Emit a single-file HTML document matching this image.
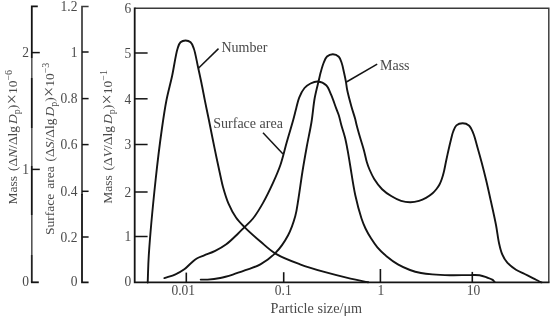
<!DOCTYPE html>
<html><head><meta charset="utf-8">
<style>
html,body{margin:0;padding:0;background:#fff;}
body{width:552px;height:317px;overflow:hidden;}
svg{display:block;filter:grayscale(1);}
text{font-family:"Liberation Serif",serif;fill:#484848;}
</style></head>
<body>
<svg width="552" height="317" viewBox="0 0 552 317">
<rect width="552" height="317" fill="#fff"/>
<path d="M134.7 8.2 H548.8 V282.4" fill="none" stroke="#3a3a3a" stroke-width="1.45"/>
<path d="M134.7 7.5 V282.4 H549.5" fill="none" stroke="#141414" stroke-width="1.8"/>
<path d="M134.8 236.5 H147.6" stroke="#141414" stroke-width="1.5"/>
<path d="M134.8 192.0 H147.6" stroke="#141414" stroke-width="1.5"/>
<path d="M134.8 144.5 H147.6" stroke="#141414" stroke-width="1.5"/>
<path d="M134.8 98.8 H147.6" stroke="#141414" stroke-width="1.5"/>
<path d="M134.8 53.0 H147.6" stroke="#141414" stroke-width="1.5"/>
<path d="M186.3 282.3 V272.6" stroke="#141414" stroke-width="1.6"/>
<path d="M283.7 282.3 V272.2" stroke="#141414" stroke-width="1.6"/>
<path d="M380.4 282.3 V269.0" stroke="#141414" stroke-width="1.6"/>
<path d="M472.3 282.3 V271.9" stroke="#141414" stroke-width="1.6"/>
<path d="M147.70 282.50 C148.07 273.33 148.06 266.41 148.80 255.00 C150.03 236.13 153.17 202.70 155.60 180.00 C157.62 161.07 159.92 142.66 162.00 128.00 C163.53 117.22 164.74 108.94 166.50 100.00 C168.14 91.66 170.30 84.29 172.10 76.00 C174.01 67.16 175.68 54.33 177.60 48.50 C178.55 45.62 179.03 43.63 180.50 42.30 C181.80 41.12 183.91 40.49 185.60 40.50 C187.28 40.51 189.28 41.14 190.60 42.30 C192.12 43.63 192.82 45.82 193.80 48.50 C195.39 52.87 196.60 60.65 197.90 66.50 C199.13 72.04 200.24 77.09 201.40 82.70 C202.65 88.75 203.84 95.35 205.10 101.60 C206.34 107.78 207.52 113.20 208.90 120.00 C210.62 128.44 212.67 139.07 214.60 148.40 C216.48 157.49 218.72 168.18 220.30 175.30 C221.34 180.01 221.83 182.80 223.00 187.00 C224.41 192.04 226.18 198.23 228.40 203.40 C230.54 208.38 233.13 213.39 236.00 217.50 C238.57 221.17 241.12 223.68 244.50 227.10 C248.88 231.53 255.10 236.98 260.40 241.50 C265.43 245.79 269.59 250.03 275.50 253.60 C282.45 257.80 291.69 261.19 300.00 264.30 C308.26 267.39 316.76 269.81 325.20 272.20 C333.59 274.57 342.80 276.84 350.50 278.60 C356.91 280.06 362.30 281.00 368.20 282.20" fill="none" stroke="#141414" stroke-width="1.9" stroke-linejoin="round" stroke-linecap="round"/>
<path d="M164.40 278.10 C168.10 276.83 172.08 275.84 175.50 274.30 C178.68 272.87 181.64 271.23 184.30 269.30 C186.85 267.44 188.99 264.89 191.20 263.00 C193.14 261.34 194.71 259.75 196.80 258.50 C199.01 257.18 201.49 256.52 204.20 255.40 C207.50 254.03 211.59 252.70 215.20 250.90 C218.96 249.02 222.69 246.98 226.30 244.30 C230.28 241.35 234.60 236.85 237.90 233.70 C240.44 231.27 242.16 229.45 244.50 227.10 C247.16 224.43 250.23 221.95 253.00 218.50 C256.40 214.25 259.73 208.67 262.90 203.10 C266.42 196.91 270.00 189.48 273.00 182.90 C275.78 176.80 278.19 171.41 280.40 165.00 C282.85 157.88 284.64 149.58 286.80 142.00 C288.91 134.58 291.49 126.26 293.20 120.00 C294.46 115.38 295.26 111.77 296.30 107.90 C297.26 104.32 297.85 100.90 299.20 97.60 C300.57 94.26 302.38 90.44 304.50 88.00 C306.26 85.98 308.27 84.58 310.50 83.50 C312.77 82.40 315.48 81.28 318.00 81.50 C320.71 81.74 324.04 83.22 326.20 85.30 C328.60 87.60 329.73 91.64 331.30 95.20 C333.03 99.12 334.63 104.25 336.00 107.90 C337.04 110.67 337.96 112.56 338.80 115.20 C339.75 118.20 340.35 121.54 341.30 125.00 C342.38 128.95 343.95 133.38 345.00 137.60 C346.04 141.78 346.78 145.82 347.60 150.20 C348.49 154.93 349.11 159.19 350.10 165.00 C351.52 173.31 353.25 185.92 355.30 195.30 C357.12 203.59 359.48 212.42 361.50 218.50 C362.85 222.57 363.94 225.23 365.50 228.50 C367.10 231.84 369.01 235.15 371.00 238.30 C372.98 241.42 374.91 244.39 377.40 247.30 C380.11 250.47 383.42 253.67 386.80 256.50 C390.24 259.38 394.01 262.14 397.90 264.40 C401.75 266.63 406.00 268.54 410.00 270.00 C413.70 271.35 417.27 272.27 421.00 273.00 C424.74 273.74 428.18 274.05 432.40 274.40 C437.62 274.84 443.94 275.08 450.00 275.20 C456.45 275.33 464.56 275.06 470.00 275.10 C473.75 275.13 476.55 274.84 479.50 275.30 C482.18 275.71 484.69 276.68 487.00 277.50 C489.05 278.23 491.37 278.96 492.70 279.90 C493.60 280.54 493.97 281.30 494.60 282.00" fill="none" stroke="#141414" stroke-width="1.9" stroke-linejoin="round" stroke-linecap="round"/>
<path d="M200.70 279.60 C203.00 279.60 204.96 279.77 207.60 279.60 C211.18 279.37 216.03 278.82 220.20 278.00 C224.43 277.17 228.62 275.89 232.80 274.60 C237.02 273.29 241.03 271.82 245.40 270.20 C250.20 268.42 255.57 267.01 260.40 264.30 C265.63 261.37 271.00 257.52 275.50 252.90 C280.32 247.95 284.78 241.45 288.10 235.20 C291.33 229.13 293.56 222.28 295.30 216.00 C296.89 210.23 297.35 205.33 298.40 199.00 C299.71 191.05 300.98 180.86 302.40 172.00 C303.78 163.37 305.27 154.91 306.80 146.50 C308.30 138.24 310.18 130.14 311.50 122.00 C312.80 113.98 313.36 105.36 314.70 98.00 C315.86 91.62 317.69 85.04 318.80 80.30 C319.55 77.11 319.94 75.05 320.70 72.30 C321.52 69.30 322.45 65.78 323.60 63.00 C324.60 60.59 325.36 57.97 327.00 56.50 C328.53 55.13 330.94 54.16 332.90 54.20 C334.88 54.24 337.34 55.37 338.80 56.80 C340.30 58.27 340.88 60.67 341.70 63.00 C342.68 65.79 343.29 69.36 344.00 72.50 C344.69 75.56 345.36 78.62 345.90 81.60 C346.42 84.45 346.53 86.75 347.20 90.00 C348.14 94.58 349.98 101.31 351.40 106.40 C352.65 110.89 354.28 115.56 355.20 119.00 C355.83 121.35 356.00 122.64 356.60 125.00 C357.48 128.44 358.89 133.41 360.10 137.60 C361.32 141.81 362.77 146.05 363.90 150.20 C364.99 154.18 365.75 158.53 366.80 162.00 C367.65 164.81 368.38 166.89 369.50 169.50 C370.78 172.49 372.25 175.79 374.20 178.90 C376.36 182.36 379.12 186.26 382.10 189.20 C384.95 192.01 388.34 194.31 391.60 196.30 C394.68 198.17 397.87 199.92 401.10 200.90 C404.15 201.82 407.36 202.23 410.40 202.20 C413.33 202.17 416.33 201.58 419.00 200.80 C421.50 200.07 423.76 199.04 426.00 197.80 C428.30 196.52 430.76 194.80 432.60 193.20 C434.15 191.85 435.34 190.47 436.50 189.00 C437.63 187.57 438.63 186.12 439.50 184.50 C440.41 182.80 441.12 180.92 441.80 179.00 C442.52 176.97 443.09 175.04 443.70 172.60 C444.50 169.42 445.22 165.19 446.00 161.50 C446.78 157.82 447.57 154.16 448.40 150.50 C449.23 146.83 450.14 142.87 451.00 139.50 C451.74 136.61 452.24 133.94 453.20 131.50 C454.08 129.28 454.80 126.78 456.40 125.40 C457.96 124.05 460.52 123.21 462.60 123.20 C464.69 123.19 467.19 123.96 468.90 125.40 C470.89 127.08 472.00 130.20 473.30 133.30 C474.97 137.27 476.11 142.66 477.50 147.50 C478.95 152.55 480.40 157.71 481.80 163.00 C483.27 168.53 484.67 174.04 486.10 180.00 C487.67 186.57 489.21 193.60 490.80 200.80 C492.51 208.56 494.57 217.51 496.00 225.00 C497.23 231.43 497.83 237.76 499.00 243.00 C499.93 247.14 500.65 250.64 502.10 254.00 C503.46 257.17 505.06 260.13 507.30 262.70 C509.65 265.40 512.99 267.78 516.00 269.70 C518.81 271.49 521.81 272.56 524.70 274.00 C527.58 275.43 530.68 276.96 533.30 278.30 C535.51 279.43 537.88 280.82 539.40 281.50 C540.27 281.89 540.80 282.03 541.50 282.30" fill="none" stroke="#141414" stroke-width="1.9" stroke-linejoin="round" stroke-linecap="round"/>
<path d="M198.4 68.2 L218.5 48.6" stroke="#141414" stroke-width="1.5"/>
<path d="M346.4 82.0 L377.2 64.1" stroke="#141414" stroke-width="1.5"/>
<path d="M263.0 132.8 L283.0 154.0" stroke="#141414" stroke-width="1.5"/>
<path d="M88.6 6.5 H82.0 V195" fill="none" stroke="#3a3a3a" stroke-width="1.7"/>
<path d="M82.0 194 V282.3 H88.6" fill="none" stroke="#141414" stroke-width="1.8"/>
<path d="M82.0 237.0 H88.6" stroke="#141414" stroke-width="1.5"/>
<path d="M82.0 191.3 H88.6" stroke="#141414" stroke-width="1.5"/>
<path d="M82.0 144.6 H88.6" stroke="#141414" stroke-width="1.5"/>
<path d="M82.0 98.6 H88.6" stroke="#141414" stroke-width="1.5"/>
<path d="M82.0 52.0 H88.6" stroke="#141414" stroke-width="1.5"/>
<path d="M37.8 6.3 H31.8 V58" fill="none" stroke="#141414" stroke-width="1.8"/>
<path d="M31.8 58.0 V78.0" stroke="#5a5a5a" stroke-width="1.6"/>
<path d="M31.8 78.0 V128.0" stroke="#141414" stroke-width="1.8"/>
<path d="M31.8 128.0 V166.0" stroke="#5a5a5a" stroke-width="1.6"/>
<path d="M31.8 166.0 V215.0" stroke="#141414" stroke-width="1.8"/>
<path d="M31.8 215.0 V255.0" stroke="#555" stroke-width="1.6"/>
<path d="M31.8 255.0 V282.3" stroke="#222" stroke-width="1.8"/>
<path d="M30.9 282.3 H38.8" fill="none" stroke="#141414" stroke-width="1.8"/>
<path d="M31.8 52.6 H39.8" stroke="#141414" stroke-width="1.5"/>
<path d="M31.8 169.4 H39.8" stroke="#141414" stroke-width="1.5"/>
<g opacity="0.995">
<text transform="translate(131.2 286.4) scale(1 1.120)" text-anchor="end" font-size="13.5" >0</text>
<text transform="translate(131.2 241.3) scale(1 1.120)" text-anchor="end" font-size="13.5" >1</text>
<text transform="translate(131.2 196.8) scale(1 1.120)" text-anchor="end" font-size="13.5" >2</text>
<text transform="translate(131.2 149.3) scale(1 1.120)" text-anchor="end" font-size="13.5" >3</text>
<text transform="translate(131.2 103.6) scale(1 1.120)" text-anchor="end" font-size="13.5" >4</text>
<text transform="translate(131.2 57.8) scale(1 1.120)" text-anchor="end" font-size="13.5" >5</text>
<text transform="translate(131.2 13.0) scale(1 1.120)" text-anchor="end" font-size="13.5" >6</text>
<text transform="translate(77.5 286.3) scale(1 1.120)" text-anchor="end" font-size="13.5" >0</text>
<text transform="translate(77.5 241.8) scale(1 1.120)" text-anchor="end" font-size="13.5" >0.2</text>
<text transform="translate(77.5 196.1) scale(1 1.120)" text-anchor="end" font-size="13.5" >0.4</text>
<text transform="translate(77.5 149.4) scale(1 1.120)" text-anchor="end" font-size="13.5" >0.6</text>
<text transform="translate(77.5 103.4) scale(1 1.120)" text-anchor="end" font-size="13.5" >0.8</text>
<text transform="translate(77.5 56.8) scale(1 1.120)" text-anchor="end" font-size="13.5" >1</text>
<text transform="translate(77.5 11.3) scale(1 1.120)" text-anchor="end" font-size="13.5" >1.2</text>
<text transform="translate(29.0 286.3) scale(1 1.120)" text-anchor="end" font-size="13.5" >0</text>
<text transform="translate(29.0 174.2) scale(1 1.120)" text-anchor="end" font-size="13.5" >1</text>
<text transform="translate(29.0 57.4) scale(1 1.120)" text-anchor="end" font-size="13.5" >2</text>
<text transform="translate(183.3 295.0) scale(1 1.100)" text-anchor="middle" font-size="13.5" >0.01</text>
<text transform="translate(283.2 295.0) scale(1 1.100)" text-anchor="middle" font-size="13.5" >0.1</text>
<text transform="translate(380.8 295.0) scale(1 1.100)" text-anchor="middle" font-size="13.5" >1</text>
<text transform="translate(473.6 295.0) scale(1 1.100)" text-anchor="middle" font-size="13.5" >10</text>
<text x="316.3" y="313.0" text-anchor="middle" font-size="14.2" >Particle size/μm</text>
<text x="221.5" y="51.6" text-anchor="start" font-size="14.0" >Number</text>
<text x="380.0" y="70.1" text-anchor="start" font-size="14.0" >Mass</text>
<text x="213.3" y="127.9" text-anchor="start" font-size="14.0" >Surface area</text>
<text transform="translate(17.0 204.4) rotate(-90)" font-size="13.5" word-spacing="1.5">Mass (Δ<tspan font-style="italic">N</tspan>/Δlg<tspan font-style="italic" dx="2.0">D</tspan><tspan font-size="10.0" dy="2.8">p</tspan><tspan dy="-2.8">)</tspan><tspan dx="0.3" font-size="18.2" dy="0.8">×</tspan><tspan dx="0.0" dy="-0.8">10</tspan><tspan font-size="10.0" dy="-5.5">−6</tspan></text>
<text transform="translate(54.2 234.9) rotate(-90)" font-size="13.5" word-spacing="1.5">Surface area (Δ<tspan font-style="italic">S</tspan>/Δlg<tspan font-style="italic" dx="2.0">D</tspan><tspan font-size="10.0" dy="2.8">p</tspan><tspan dy="-2.8">)</tspan><tspan dx="0.3" font-size="18.2" dy="0.8">×</tspan><tspan dx="0.0" dy="-0.8">10</tspan><tspan font-size="10.0" dy="-5.5">−3</tspan></text>
<text transform="translate(112.0 203.8) rotate(-90)" font-size="13.5" word-spacing="1.5">Mass (Δ<tspan font-style="italic">V</tspan>/Δlg<tspan font-style="italic" dx="2.0">D</tspan><tspan font-size="10.0" dy="2.8">p</tspan><tspan dy="-2.8">)</tspan><tspan dx="0.3" font-size="18.2" dy="0.8">×</tspan><tspan dx="0.0" dy="-0.8">10</tspan><tspan font-size="10.0" dy="-5.5">−1</tspan></text>
</g>
</svg>
</body></html>
